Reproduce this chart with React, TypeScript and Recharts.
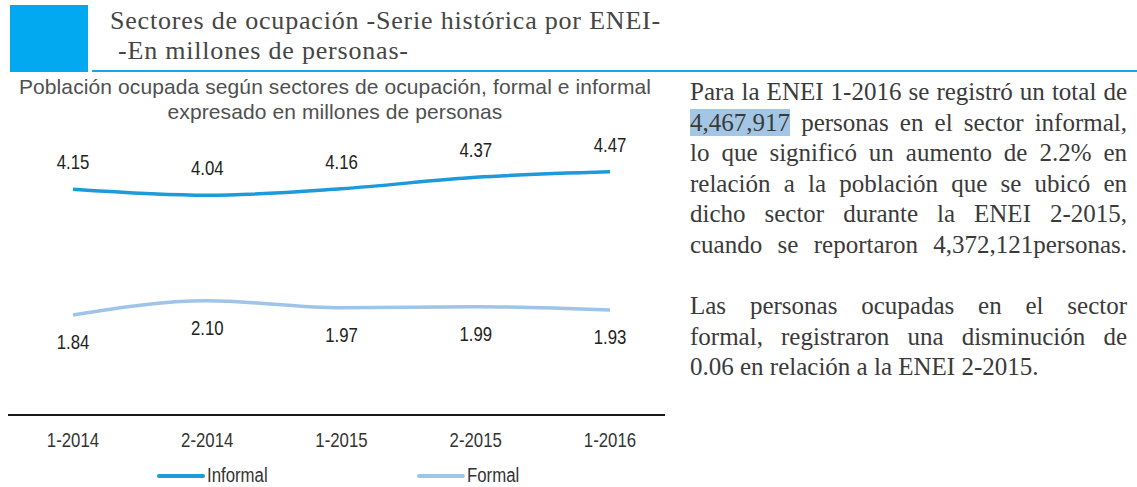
import React from 'react';
import { LineChart, Line, XAxis, YAxis, LabelList } from 'recharts';

const periods = ['1-2014', '2-2014', '1-2015', '2-2015', '1-2016'];
const informal = [4.15, 4.04, 4.16, 4.37, 4.47];
const formal = [1.84, 2.10, 1.97, 1.99, 1.93];
const seriesNames = ['Informal', 'Formal'];
const seriesColors = ['#1c9ad9', '#9ec4e8'];

const data = periods.map((p, i) => ({ period: p, Informal: informal[i], Formal: formal[i] }));

const sans = "'Liberation Sans', Arial, sans-serif";
const serif = "'Liberation Serif', 'DejaVu Serif', serif";
const NARROW = 0.84;
const NUM_SIZE = 20;

const paraLines: { text: React.ReactNode; last?: boolean }[] = [
  { text: 'Para la ENEI 1-2016 se registró un total de' },
  { text: <><span style={{ background: '#a3c6e4' }}>4,467,917</span> personas en el sector informal,</> },
  { text: 'lo que significó un aumento de 2.2% en' },
  { text: 'relación a la población que se ubicó en' },
  { text: 'dicho sector durante la ENEI 2-2015,' },
  { text: 'cuando se reportaron 4,372,121personas.' },
];
const para2Lines: { text: React.ReactNode; last?: boolean }[] = [
  { text: 'Las personas ocupadas en el sector' },
  { text: 'formal, registraron una disminución de' },
  { text: '0.06 en relación a la ENEI 2-2015.', last: true },
];

function JLine({ children, last }: { children: React.ReactNode; last?: boolean }) {
  return (
    <div style={{ textAlign: last ? 'left' : 'justify', textAlignLast: last ? 'left' : 'justify', whiteSpace: 'nowrap', height: 30.6, lineHeight: '30.6px' } as React.CSSProperties}>
      {children}
    </div>
  );
}

const makeLabel = (dir: number) => (props: any) => {
  const { x, y, value } = props;
  const cy = y + dir * 27;
  return (
    <text transform={`translate(${x},${cy + NUM_SIZE * 0.35}) scale(${NARROW},1)`} textAnchor="middle" fill="#222" fontSize={NUM_SIZE} fontFamily={sans}>
      {Number(value).toFixed(2)}
    </text>
  );
};

const NarrowTick = (props: any) => {
  const { x, y, payload } = props;
  return (
    <text transform={`translate(${x},${y}) scale(${NARROW},1)`} dy="0.71em" textAnchor="middle" fill="#333" fontSize={NUM_SIZE} fontFamily={sans}>
      {payload.value}
    </text>
  );
};

export default function App() {
  return (
    <div style={{ position: 'absolute', left: 0, top: 0, width: 1137, height: 487, background: '#fff', overflow: 'hidden' }}>
      {/* header */}
      <div style={{ position: 'absolute', left: 10, top: 5, width: 78, height: 67, background: '#02a9f0' }} />
      <div style={{ position: 'absolute', left: 92, top: 70, width: 1045, height: 2, background: '#1aa3e6' }} />
      <div style={{ position: 'absolute', left: 110, top: 8, fontFamily: serif, fontSize: 26, color: '#454545', lineHeight: '26px', whiteSpace: 'nowrap', letterSpacing: 0.8 }}>
        Sectores de ocupación -Serie histórica por ENEI-
      </div>
      <div style={{ position: 'absolute', left: 118, top: 38, fontFamily: serif, fontSize: 26, color: '#454545', lineHeight: '26px', whiteSpace: 'nowrap', letterSpacing: 0.8 }}>
        -En millones de personas-
      </div>

      {/* chart title */}
      <div style={{ position: 'absolute', left: 0, width: 670, top: 74, textAlign: 'center', fontFamily: sans, fontSize: 21, color: '#505050', lineHeight: '25px', whiteSpace: 'nowrap', letterSpacing: 0.1 }}>
        Población ocupada según sectores de ocupación, formal e informal<br />expresado en millones de personas
      </div>

      <div style={{ position: 'absolute', left: 0, top: 0 }}>
        <LineChart width={680} height={487} data={data} margin={{ top: 143, right: 15, bottom: 42, left: 8 }}>
          <YAxis hide domain={[0, 5]} />
          <XAxis
            dataKey="period"
            padding={{ left: 65, right: 55 }}
            axisLine={{ stroke: '#1a1a1a', strokeWidth: 2 }}
            tickLine={false}
            tickMargin={12}
            height={30}
            tick={NarrowTick}
          />
          <Line type="monotone" dataKey="Informal" stroke={seriesColors[0]} strokeWidth={3.5} dot={false} isAnimationActive={false}>
            <LabelList dataKey="Informal" content={makeLabel(-1)} />
          </Line>
          <Line type="monotone" dataKey="Formal" stroke={seriesColors[1]} strokeWidth={3.5} dot={false} isAnimationActive={false}>
            <LabelList dataKey="Formal" content={makeLabel(1)} />
          </Line>
        </LineChart>
      </div>

      {/* legend */}
      {seriesNames.map((name, i) => (
        <div key={name} style={{ position: 'absolute', left: i === 0 ? 157 : 417, top: 464, display: 'flex', alignItems: 'center', fontFamily: sans, fontSize: NUM_SIZE, color: '#333', whiteSpace: 'nowrap' }}>
          <div style={{ width: 48, height: 4, borderRadius: 2, background: seriesColors[i] }} />
          <span style={{ marginLeft: 2, display: 'inline-block', transform: `scaleX(${NARROW})`, transformOrigin: 'left center' }}>{name}</span>
        </div>
      ))}

      {/* right text */}
      <div style={{ position: 'absolute', left: 690, top: 77, width: 437, fontFamily: serif, fontSize: 25, color: '#3a3a3a' }}>
        {paraLines.map((l, i) => <JLine key={i} last={l.last}>{l.text}</JLine>)}
        <div style={{ height: 30.6 }} />
        {para2Lines.map((l, i) => <JLine key={i} last={l.last}>{l.text}</JLine>)}
      </div>
    </div>
  );
}
